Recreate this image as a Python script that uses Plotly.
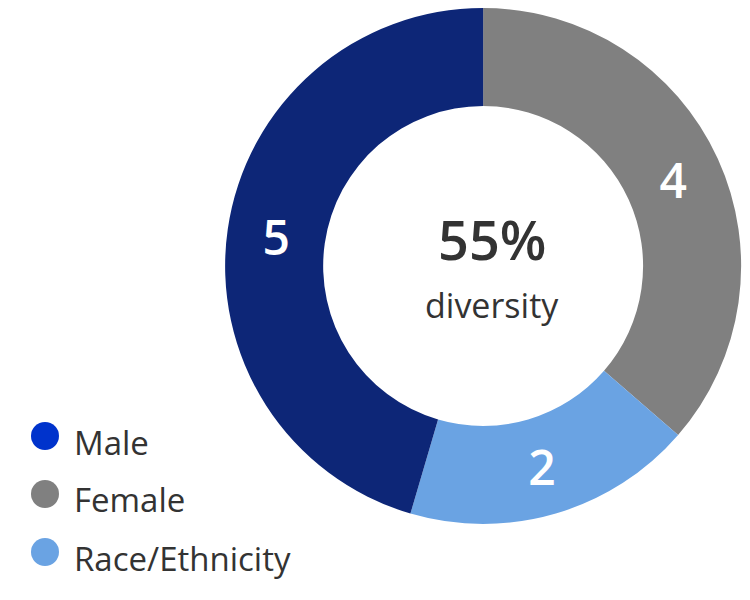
import plotly.graph_objects as go

slice_labels = ["Female", "Race/Ethnicity", "Male"]
slice_values = [4, 2, 5]
slice_colors = ["#808080", "#6aa3e3", "#0d2677"]

legend_labels = ["Male", "Female", "Race/Ethnicity"]
legend_colors = ["#0033cc", "#808080", "#6aa3e3"]

fig = go.Figure()
fig.add_trace(go.Pie(
    labels=slice_labels, values=slice_values, sort=False, direction="clockwise",
    hole=0.62, marker=dict(colors=slice_colors, line=dict(width=0)),
    textinfo="value", textposition="inside", insidetextorientation="horizontal",
    textfont=dict(color="white", size=48, family="Open Sans", weight=600),
    domain=dict(x=[0.284, 0.983], y=[0.14, 1.0]), showlegend=False,
))

fig.add_annotation(x=0.645, y=0.615, xref="paper", yref="paper", text="55%",
                   showarrow=False, font=dict(size=54, color="#333333", family="Open Sans", weight=600))
fig.add_annotation(x=0.645, y=0.505, xref="paper", yref="paper", text="diversity",
                   showarrow=False, font=dict(size=34, color="#333333", family="Open Sans", weight=500))

for i, (lab, col) in enumerate(zip(legend_labels, legend_colors)):
    yc = 1 - (428 + 58 * i) / 600
    fig.add_shape(type="circle", xref="paper", yref="paper",
                  x0=23 / 750, x1=51 / 750, y0=yc - 14 / 600, y1=yc + 14 / 600,
                  fillcolor=col, line=dict(width=0))
    fig.add_annotation(x=64 / 750, y=1 - (434 + 58 * i) / 600, xref="paper", yref="paper",
                       text=lab, xanchor="left", yanchor="middle", showarrow=False,
                       font=dict(size=33, color="#333333", family="Open Sans", weight=500))

fig.update_layout(width=750, height=600, margin=dict(l=0, r=0, t=0, b=0),
                  paper_bgcolor="white", plot_bgcolor="white")
fig.write_html("out.html")
